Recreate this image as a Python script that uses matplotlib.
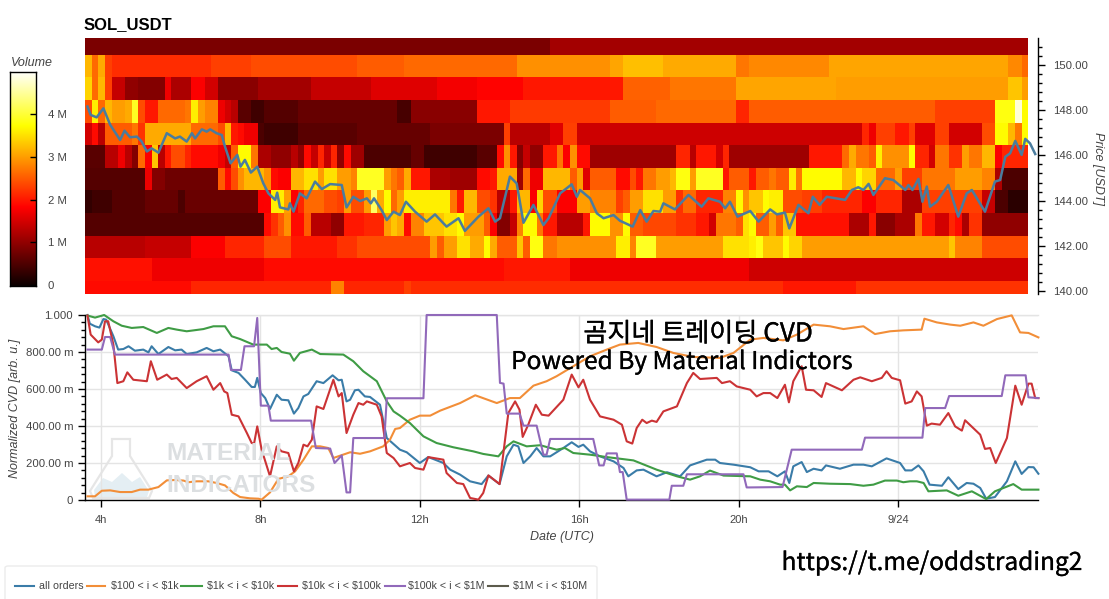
import numpy as np
import matplotlib
matplotlib.use("Agg")
import matplotlib.pyplot as plt
import matplotlib.patheffects as pe
from matplotlib.lines import Line2D
from matplotlib.patches import Polygon, FancyBboxPatch
from matplotlib.ticker import FixedLocator, FixedFormatter

W, H = 1109, 599

# ---- heatmap: each row lists (last column of the run, volume in millions), 10-minute columns
price_edges = [139.87, 140.44, 141.46, 142.43, 143.45, 144.47, 145.44, 146.46, 147.43, 148.45, 149.47, 150.44, 151.19]
vol_row_01 = [(15,1.9),(36,2.1),(38,2.8),(47,2.1),(48,2.3),(104,2.15),(115,2.0),(141,2.2)]
vol_row_02 = [(9,1.95),(26,1.7),(62,1.9),(72,2.0),(99,1.7),(141,1.45)]
vol_row_03 = [(8,1.3),(15,1.4),(20,1.8),(26,2.1),(30,2.4),(37,2.0),(40,2.2),(51,2.4),(52,3.0),(53,2.5),(55,3.0),(57,3.5),(59,3.1),(60,3.7),(61,3.1),(64,2.5),(65,3.3),(66,2.5),(68,3.8),(70,2.7),(79,2.9),(81,3.6),(82,2.8),(85,3.9),(95,3.0),(99,3.5),(100,3.6),(101,3.8),(104,3.3),(105,3.7),(107,3.4),(129,3.0),(130,3.3),(134,2.8),(141,2.4)]
vol_row_04 = [(26,0.55),(27,1.9),(28,2.2),(29,2.5),(30,2.9),(32,1.9),(33,2.5),(36,1.3),(38,1.0),(41,2.0),(44,2.1),(45,3.0),(46,3.3),(47,3.1),(48,1.9),(50,2.8),(53,3.3),(55,3.5),(56,3.7),(59,3.0),(60,2.5),(61,1.8),(63,0.9),(64,1.4),(65,2.8),(67,3.7),(68,2.7),(70,2.0),(74,1.3),(75,2.0),(78,3.7),(80,2.9),(81,3.7),(83,2.5),(88,2.35),(91,2.2),(93,2.0),(94,1.5),(97,2.7),(98,2.5),(99,3.5),(100,3.7),(102,2.5),(103,3.0),(104,2.5),(106,3.3),(114,1.95),(117,1.2),(118,2.0),(121,0.95),(124,1.2),(125,2.7),(127,2.0),(129,1.5),(130,2.1),(131,1.9),(132,1.2),(134,2.2),(141,1.0)]
vol_row_05 = [(0,0.3),(3,0.4),(8,0.55),(13,0.7),(14,0.5),(25,0.72),(27,1.8),(29,3.6),(30,3.0),(31,1.8),(32,2.1),(35,2.6),(37,2.4),(38,2.3),(39,3.0),(41,2.4),(42,3.0),(43,4.2),(44,3.1),(45,3.7),(46,2.6),(47,3.0),(54,3.6),(55,2.7),(56,2.0),(58,3.2),(60,2.4),(61,2.2),(63,1.3),(64,2.0),(66,3.2),(67,1.8),(68,3.4),(70,2.4),(73,1.8),(75,3.0),(79,2.8),(80,2.3),(81,2.5),(83,3.0),(86,3.5),(88,3.0),(89,2.2),(91,2.6),(95,2.1),(97,2.8),(98,3.7),(99,2.9),(101,3.3),(102,3.7),(104,3.6),(107,2.4),(110,2.3),(116,2.1),(118,1.8),(122,2.1),(125,1.2),(134,2.3),(136,1.4),(138,0.5),(141,0.25)]
vol_row_06 = [(8,0.55),(9,1.7),(11,0.9),(19,0.75),(20,2.5),(21,1.9),(22,2.4),(23,2.9),(26,3.2),(27,2.9),(28,1.9),(30,1.8),(32,3.2),(34,3.5),(35,3.0),(37,3.5),(39,3.0),(40,2.8),(44,3.9),(45,3.0),(46,2.7),(47,2.5),(48,3.1),(51,2.0),(54,1.2),(58,1.1),(60,1.9),(61,2.0),(64,3.1),(65,1.1),(66,2.6),(68,1.7),(72,3.2),(73,2.5),(74,3.0),(75,1.6),(79,2.5),(81,1.9),(82,2.4),(83,2.0),(85,2.7),(87,3.0),(88,3.2),(90,3.8),(91,3.0),(95,3.9),(96,2.0),(99,2.5),(100,2.0),(102,2.5),(103,2.7),(105,2.5),(106,3.6),(107,2.7),(113,3.7),(115,3.2),(116,3.7),(118,3.4),(121,2.6),(122,3.0),(125,2.3),(130,2.7),(134,3.0),(136,2.8),(137,1.2),(141,0.5)]
vol_row_07 = [(2,0.6),(4,1.3),(5,1.7),(6,1.3),(7,0.9),(8,2.6),(9,1.8),(10,3.3),(11,1.3),(12,2.0),(14,2.4),(15,2.1),(19,1.9),(20,1.7),(21,1.4),(22,2.5),(24,3.7),(25,2.7),(27,1.2),(30,1.0),(31,1.3),(32,1.0),(33,1.9),(34,1.4),(35,2.1),(36,1.4),(37,2.1),(38,1.0),(39,1.9),(41,1.1),(48,0.5),(50,0.7),(58,0.4),(61,0.6),(62,1.9),(63,2.9),(64,2.0),(65,0.9),(66,1.4),(68,1.0),(70,2.0),(71,2.7),(72,1.8),(73,2.9),(75,1.9),(88,1.1),(90,2.1),(91,1.3),(94,2.0),(95,1.5),(96,2.1),(108,1.1),(113,2.0),(114,2.6),(115,3.1),(117,2.7),(118,2.5),(119,3.6),(123,2.9),(124,3.7),(126,2.1),(127,1.5),(129,2.7),(131,2.2),(132,3.0),(134,2.7),(136,3.2),(137,1.8),(141,2.1)]
vol_row_08 = [(0,1.5),(1,1.9),(2,1.3),(6,2.5),(7,2.7),(8,2.2),(15,3.1),(19,2.6),(20,2.4),(21,3.2),(22,2.0),(23,1.9),(25,1.7),(26,0.5),(31,0.4),(40,0.6),(51,0.7),(62,0.85),(63,2.3),(69,1.3),(71,1.6),(73,2.3),(116,1.45),(117,2.1),(118,1.7),(121,2.3),(123,2.0),(124,2.3),(127,1.6),(129,2.3),(134,1.5),(136,2.4),(138,3.7),(139,3.2),(140,2.7),(141,3.7)]
vol_row_09 = [(0,2.4),(1,3.6),(2,2.6),(3,3.2),(5,3.0),(6,3.1),(7,3.9),(8,2.4),(10,2.0),(14,2.6),(15,2.7),(16,3.6),(17,3.0),(19,2.8),(20,1.7),(21,1.5),(22,1.3),(24,0.6),(26,0.4),(31,0.55),(46,0.7),(48,0.45),(58,0.95),(63,2.0),(78,2.25),(85,2.5),(97,2.6),(99,2.1),(127,2.5),(136,2.3),(139,3.8),(140,4.8),(141,3.7)]
vol_row_10 = [(0,3.4),(1,2.6),(2,3.2),(3,2.3),(5,1.4),(7,1.0),(11,0.9),(12,1.7),(15,1.2),(17,1.8),(19,1.5),(25,0.95),(33,1.15),(42,1.4),(52,1.6),(58,1.75),(65,1.85),(80,2.0),(87,2.55),(97,2.7),(112,3.05),(138,3.0),(140,3.3),(141,3.0)]
vol_row_11 = [(0,3.2),(1,2.6),(2,3.1),(3,2.3),(18,2.15),(24,2.3),(40,2.4),(47,2.5),(64,2.6),(78,2.9),(80,3.05),(86,3.25),(97,3.1),(99,2.7),(111,2.85),(138,3.05),(140,2.85),(141,2.6)]
vol_row_12 = [(69,0.85),(141,1.15)]
vol_rows = [vol_row_01, vol_row_02, vol_row_03, vol_row_04, vol_row_05, vol_row_06,
            vol_row_07, vol_row_08, vol_row_09, vol_row_10, vol_row_11, vol_row_12]
n_cols = 142
first_hour = 3.6

# ---- price line
price_t = [3.66,3.74,3.89,4.06,4.23,4.48,4.59,4.73,4.90,5.02,5.15,5.27,5.44,5.65,5.86,5.98,6.15,6.28,6.36,6.53,6.65,6.74,6.90,7.03,7.11,7.25,7.42,7.50,7.61,7.76,7.92,8.07,8.20,8.37,8.42,8.49,8.70,8.74,8.83,8.99,9.16,9.37,9.54,9.75,10.04,10.16,10.33,10.50,10.67,10.77,10.85,11.04,11.17,11.34,11.50,
           11.65,11.88,12.17,12.38,12.67,12.97,13.13,13.47,13.72,13.89,14.01,14.26,14.43,14.60,14.85,15.10,15.23,15.52,15.81,15.94,16.02,16.27,16.44,16.61,16.86,17.02,17.34,17.53,17.69,17.86,18.03,18.11,18.40,18.74,19.07,19.24,19.53,19.66,19.78,19.97,20.29,
           20.50,20.79,20.96,21.16,21.27,21.50,21.75,21.86,22.03,22.21,22.67,22.84,23.00,23.13,23.26,23.38,23.67,23.88,24.18,24.26,24.36,24.51,24.61,24.72,24.80,24.97,25.26,25.51,25.72,25.85,26.18,26.43,26.56,26.69,26.81,26.94,27.10,27.19,27.31,27.44]
price_v = [148.16,147.79,147.68,148.08,147.35,146.68,147.09,146.80,146.83,146.61,146.17,146.31,146.12,146.98,146.75,146.83,146.61,146.98,146.75,147.15,147.05,147.15,146.98,146.90,146.39,145.65,146.02,145.50,145.80,145.24,145.50,144.77,144.32,144.03,144.35,143.70,143.61,143.88,143.51,144.32,144.10,144.84,144.51,144.73,144.69,143.70,144.17,143.98,144.10,143.88,144.10,143.58,143.14,143.51,143.36,
           143.95,143.51,143.07,143.39,142.85,143.22,142.66,143.29,143.66,143.07,143.22,145.06,144.76,143.02,143.81,142.92,143.22,144.32,144.72,144.17,144.47,144.10,143.44,143.22,143.36,143.11,142.85,143.58,143.07,143.54,143.51,143.88,143.61,144.25,143.73,144.10,143.95,143.66,143.95,143.29,143.54,
           143.07,143.61,143.39,143.47,142.77,143.81,143.44,144.17,143.81,144.17,144.03,144.47,144.59,144.47,144.74,144.25,144.99,144.91,144.47,144.69,144.47,144.96,143.95,144.62,143.73,143.95,144.69,143.29,144.32,144.47,143.51,144.84,144.91,145.94,146.09,146.64,146.02,146.73,146.53,146.06]

# ---- CVD series (hours, thousandths)
blue_t = [3.66,3.72,3.85,3.96,4.06,4.13,4.31,4.43,4.56,4.69,4.85,5.06,5.19,5.27,5.44,5.69,5.86,6.02,6.15,6.40,6.65,6.82,6.99,7.20,7.28,7.45,7.61,7.78,7.86,7.92,8.01,8.12,8.24,8.41,8.53,8.70,8.84,8.95,9.08,9.20,9.41,9.58,9.81,9.96,10.04,10.16,10.25,10.37,10.46,10.62,10.75,11.00,11.17,11.50,
          11.67,12.00,12.21,12.38,12.59,12.76,13.01,13.26,13.55,13.72,14.00,14.18,14.35,14.47,14.60,14.77,14.93,15.10,15.27,15.60,15.81,15.98,16.10,16.27,16.52,16.86,17.11,17.23,17.44,17.61,17.94,18.20,18.53,18.78,19.20,19.41,19.53,19.87,20.29,
          20.50,20.75,20.97,21.16,21.27,21.37,21.58,21.71,21.88,22.08,22.19,22.54,22.88,23.13,23.34,23.71,24.05,24.18,24.34,24.51,24.64,24.79,25.10,25.26,25.51,25.72,25.89,26.06,26.21,26.43,26.73,26.94,27.10,27.27,27.40,27.52]
blue_v = [1000,953,939,932,978,975,885,813,816,831,807,813,798,831,789,827,809,813,789,798,822,804,813,777,701,687,651,611,611,660,578,551,492,569,542,539,467,497,560,573,642,632,674,647,650,533,542,593,596,560,557,515,335,272,
          258,200,232,218,200,164,137,101,86,132,86,236,299,290,200,236,281,236,236,281,312,287,299,263,236,209,173,128,160,164,128,150,128,187,218,218,200,191,177,
          155,155,128,155,92,182,205,151,169,160,187,169,191,191,182,225,200,160,160,187,155,83,77,123,59,92,88,65,7,16,101,209,141,178,177,142]
orange_t = [3.66,3.85,4.02,4.23,4.48,4.77,4.98,5.19,5.44,5.65,5.86,6.07,6.19,6.40,6.69,6.90,7.11,7.32,7.49,7.74,7.95,8.03,8.24,8.45,8.70,8.87,9.08,9.29,9.50,9.70,9.83,10.25,10.50,10.75,11.08,11.25,11.38,11.50,
            11.75,12.00,12.26,12.51,13.01,13.39,13.93,14.26,14.51,14.85,15.18,15.43,15.85,16.27,16.69,17.02,17.48,17.94,18.36,18.86,19.53,19.87,20.29,
            20.62,21.12,21.46,21.88,22.29,22.63,23.13,23.42,23.80,24.13,24.59,24.66,24.97,25.31,25.56,25.89,26.14,26.48,26.85,27.06,27.27,27.52]
orange_v = [20,20,50,52,43,43,56,56,70,106,108,105,96,101,101,92,79,38,16,9,7,2,41,114,128,155,218,290,290,281,227,258,250,263,290,326,384,389,
            434,456,456,483,524,566,524,551,551,618,642,669,723,777,813,840,849,827,795,773,768,795,867,
            876,863,894,948,939,924,939,897,912,917,921,980,960,948,942,960,942,978,998,906,903,879]
green_t = [3.66,3.85,4.08,4.31,4.52,4.77,5.06,5.40,5.69,5.90,6.15,6.57,6.82,7.11,7.28,7.49,7.82,8.16,8.28,8.41,8.53,8.74,8.84,8.99,9.29,9.50,10.08,10.33,10.58,10.92,11.17,11.34,11.50,
           11.75,12.09,12.42,12.84,13.34,13.59,13.97,14.18,14.35,14.68,15.02,15.43,15.64,15.85,16.27,16.69,17.36,17.94,18.45,18.78,19.03,19.28,19.62,20.29,
           20.54,20.79,21.04,21.16,21.29,21.46,21.71,21.88,22.29,22.80,23.13,23.38,23.67,23.97,24.13,24.30,24.47,24.64,24.76,25.22,25.51,25.85,26.21,26.43,26.89,27.10,27.52]
green_v = [997,986,1000,966,942,930,935,903,930,921,912,924,939,939,885,870,840,840,816,822,800,791,753,795,813,789,786,750,696,642,533,479,456,
           416,344,308,285,263,249,236,290,317,290,296,272,281,254,245,232,214,164,128,110,128,159,132,128,
           110,101,83,83,52,74,70,92,88,86,77,83,105,105,96,101,101,92,47,52,23,47,5,47,86,56,56]
red_t = [3.66,3.74,3.93,4.02,4.10,4.18,4.31,4.41,4.56,4.66,4.81,5.15,5.25,5.41,5.65,5.77,5.90,6.15,6.40,6.65,6.82,6.99,7.09,7.17,7.28,7.45,7.66,7.78,7.84,7.92,8.03,8.24,8.41,8.53,8.70,8.84,8.95,9.08,9.18,9.29,9.41,9.58,9.83,9.96,10.04,10.16,10.33,10.46,10.58,10.67,10.92,11.04,11.17,11.34,11.50,
         11.75,11.88,12.09,12.21,12.59,12.67,12.93,13.09,13.26,13.47,13.59,13.72,14.00,14.22,14.39,14.50,14.58,14.72,14.91,15.06,15.23,15.60,15.81,15.98,16.10,16.27,16.52,16.86,17.07,17.19,17.33,17.44,17.58,17.69,17.82,17.94,18.11,18.45,18.70,18.86,19.03,19.45,19.58,19.78,19.95,20.29,
         20.45,20.62,20.79,20.97,21.16,21.26,21.37,21.58,21.69,21.88,22.08,22.19,22.59,22.88,23.05,23.34,23.59,23.71,23.84,24.05,24.18,24.34,24.47,24.59,24.72,24.84,25.05,25.26,25.43,25.60,25.68,26.06,26.18,26.31,26.45,26.73,26.94,27.10,27.27,27.35,27.44,27.52]
red_v = [997,894,852,867,966,966,840,632,642,690,650,642,750,650,678,654,660,605,642,669,596,632,587,578,461,452,362,308,305,398,272,128,290,263,254,155,200,299,290,326,506,492,650,560,578,362,461,524,515,533,515,452,254,227,182,
         200,173,164,232,218,146,92,86,11,2,38,133,86,470,533,488,341,407,515,461,456,542,678,609,650,542,452,434,407,317,305,389,434,416,429,422,479,506,632,687,654,660,632,642,614,596,
         560,578,578,551,623,528,642,723,596,593,557,632,593,650,663,642,660,696,660,647,521,533,587,560,402,413,407,470,398,375,431,353,276,281,200,335,618,515,629,629,551,551]
purple_t = [3.66,4.02,4.10,4.23,4.35,7.20,7.26,7.51,7.60,7.84,7.92,8.01,8.20,8.26,9.27,9.39,9.75,9.86,10.04,10.16,10.25,10.33,11.11,11.17,11.50,
            12.09,12.17,13.93,14.01,14.10,14.18,14.50,14.60,14.93,15.10,15.18,15.27,16.35,16.50,16.61,16.69,16.94,17.02,17.09,17.19,18.26,18.32,18.61,18.70,20.12,20.20,20.29,
            21.10,21.33,23.09,23.17,24.61,24.68,25.18,25.28,26.60,26.69,27.20,27.27,27.52]
purple_v = [813,813,881,881,786,786,703,703,831,831,984,510,510,429,429,281,278,200,241,41,41,335,335,550,550,
            550,1000,1000,633,629,467,467,402,402,245,245,330,330,187,187,252,252,151,151,2,2,77,77,139,139,68,68,
            70,272,272,337,337,497,497,562,562,674,674,555,551]

# ---- labels
series_labels = ["all orders", "$100 < i < $1k", "$1k < i < $10k", "$10k < i < $100k", "$100k < i < $1M", "$1M < i < $10M"]
series_colors = ["#3a7ca8", "#f28e38", "#3f9c45", "#cb3335", "#9169ba", "#5c5b4c"]
hour_ticks = [4, 8, 12, 16, 20, 24]
hour_labels = ["4h", "8h", "12h", "16h", "20h", "9/24"]
cvd_ticks = [0, 200, 400, 600, 800, 1000]
cvd_labels = ["0", "200.00 m", "400.00 m", "600.00 m", "800.00 m", "1.000"]
price_ticks = [140, 142, 144, 146, 148, 150]
vol_ticks = [0, 1, 2, 3, 4]
vol_labels = ["0", "1 M", "2 M", "3 M", "4 M"]

SANS = ["Liberation Sans", "DejaVu Sans"]
CJK = ["Noto Sans CJK KR", "DejaVu Sans"]
GRAY = "#444444"
plt.rcParams["font.family"] = SANS


def ax_px(x0, y0, x1, y1):
    return fig.add_axes([x0 / W, 1 - y1 / H, (x1 - x0) / W, (y1 - y0) / H])


def txt(x, y, s, **kw):
    return fig.text(x / W, 1 - y / H, s, **kw)


fig = plt.figure(figsize=(W / 100, H / 100), dpi=100, facecolor="white")

# bottom panel
ax2 = ax_px(85, 315, 1038, 500)
xlim = (3.598, 27.51)
ax2.set_xlim(xlim)
ax2.set_ylim(0, 1000)
for s in ("top", "right"):
    ax2.spines[s].set_visible(False)
for s in ("left", "bottom"):
    ax2.spines[s].set_linewidth(1.0)
ax2.grid(True, color="#e4e4e4", lw=1.0)
ax2.axhline(1000, color="#e4e4e4", lw=1.0, clip_on=False, zorder=0.5)
ax2.set_axisbelow(True)
ax2.xaxis.set_major_locator(FixedLocator(hour_ticks))
ax2.xaxis.set_major_formatter(FixedFormatter(hour_labels))
ax2.yaxis.set_major_locator(FixedLocator(cvd_ticks))
ax2.yaxis.set_major_formatter(FixedFormatter(cvd_labels))
ax2.yaxis.set_minor_locator(FixedLocator(list(range(0, 1001, 40))))
ax2.tick_params(axis="both", which="major", length=5, width=1, colors="black", labelcolor=GRAY, labelsize=8.2)
ax2.tick_params(axis="x", pad=6, labelsize=8.0)
ax2.tick_params(axis="y", which="minor", length=3, width=1)
ax2.patch.set_alpha(0)
for t, v, c in ((blue_t, blue_v, series_colors[0]), (orange_t, orange_v, series_colors[1]),
                (green_t, green_v, series_colors[2]), (red_t, red_v, series_colors[3]),
                (purple_t, purple_v, series_colors[4])):
    ax2.plot(t, v, color=c, lw=1.5, solid_joinstyle="round", clip_on=False, zorder=3)

# top panel
ax1 = ax_px(85, 38, 1038, 294)
ax1.set_xlim(xlim)
ax1.set_ylim(price_edges[0], price_edges[-1])
vol = np.zeros((len(vol_rows), n_cols))
for r, runs in enumerate(vol_rows):
    c0 = 0
    for last, value in runs:
        vol[r, c0:last + 1] = value
        c0 = last + 1
col_edges = first_hour + np.arange(n_cols + 1) / 6
ax1.pcolormesh(col_edges, price_edges, vol, cmap="hot", vmin=0, vmax=5, shading="flat", linewidth=0, antialiased=False)
ax1.plot(price_t, price_v, color="#4a7c9e", lw=1.8, solid_joinstyle="round", zorder=3)
for s in ("top", "left", "bottom"):
    ax1.spines[s].set_visible(False)
ax1.spines["right"].set_linewidth(1.0)
ax1.xaxis.set_visible(False)
ax1.yaxis.tick_right()
ax1.yaxis.set_major_locator(FixedLocator(price_ticks))
ax1.yaxis.set_major_formatter(FixedFormatter([f"{p:.2f}" for p in price_ticks]))
ax1.yaxis.set_minor_locator(FixedLocator(list(np.arange(140, 151.2, 0.4))))
ax1.tick_params(axis="y", which="major", length=5, width=1, labelcolor=GRAY, labelsize=8.2, pad=6)
ax1.tick_params(axis="y", which="minor", length=3, width=1)

# colour bar
cax = ax_px(10, 71.5, 36, 286)
grad = np.linspace(0, 4.99, 256).reshape(-1, 1)
cax.imshow(grad, aspect="auto", cmap="hot", vmin=0, vmax=5, origin="lower", extent=(0, 1, -0.02, 4.99))
cax.xaxis.set_visible(False)
cax.yaxis.tick_right()
cax.yaxis.set_major_locator(FixedLocator(vol_ticks))
cax.yaxis.set_major_formatter(FixedFormatter(vol_labels))
cax.tick_params(axis="y", direction="in", length=4, width=1, labelcolor=GRAY, labelsize=8.2, pad=8.5)
for s in cax.spines.values():
    s.set_linewidth(1.0)

# watermark (behind the CVD lines)
to_fig = lambda pts: [(x / W, 1 - y / H) for x, y in pts]
flask = [(112, 439), (130, 439), (130, 456), (152, 491), (149, 498), (93, 498), (90, 491), (112, 456)]
hill = [(94, 490), (103, 478), (112, 482), (122, 473), (132, 482), (140, 477), (149, 491), (147, 497), (95, 497)]
fig.add_artist(Polygon(to_fig(hill), closed=True, transform=fig.transFigure, fc="#e4eef3", ec="none", zorder=0))
fig.add_artist(Polygon(to_fig(flask), closed=True, transform=fig.transFigure, fc="none", ec="#e6e6e6", lw=1.6, zorder=0))
txt(166, 454, "MATERIAL", weight="bold", fontsize=17.6, color="#dcdfe1", va="center", ha="left", zorder=0)
txt(166, 486, "INDICATORS", weight="bold", fontsize=17.6, color="#dcdfe1", va="center", ha="left", zorder=0)

# titles and labels
txt(84, 25, "SOL_USDT", fontsize=12, weight="bold", va="center", ha="left", color="black")
txt(11, 62.5, "Volume", fontsize=9, style="italic", va="center", ha="left", color=GRAY)
txt(1098, 168, "Price [USDT]", fontsize=9, style="italic", rotation=270, va="center", ha="center", color=GRAY)
txt(15, 408, "Normalized CVD [arb. u.]", fontsize=9, style="italic", rotation=90, va="center", ha="center", color=GRAY)
txt(562, 537, "Date (UTC)", fontsize=9, style="italic", va="center", ha="center", color=GRAY)

# pasted overlay text
bold_edge = [pe.withStroke(linewidth=0.2, foreground="black")]
txt(698, 334, "곰지네 트레이딩 CVD", family=CJK, fontsize=18.8, va="center", ha="center", color="black", zorder=10, path_effects=bold_edge)
txt(682, 362, "Powered By Material Indictors", family=CJK, fontsize=17.6, va="center", ha="center", color="black", zorder=10, path_effects=bold_edge)
txt(932, 563, "https://t.me/oddstrading2", family=CJK, fontsize=17.6, va="center", ha="center", color="black", zorder=10, path_effects=bold_edge)

# legend
fig.add_artist(FancyBboxPatch((5 / W, 1 - 603 / H), 592 / W, 37 / H, boxstyle="round,pad=0,rounding_size=0.003",
                              transform=fig.transFigure, fc="white", ec="#ececec", lw=1))
leg_line_x = [(15, 34), (87, 105), (181, 202), (278, 297), (385, 405), (488, 508)]
leg_text_x = [39, 111, 207, 302, 408, 513]
for (x0, x1), tx, label, c in zip(leg_line_x, leg_text_x, series_labels, series_colors):
    fig.add_artist(Line2D([x0 / W, x1 / W], [1 - 585.5 / H] * 2, color=c, lw=1.5, transform=fig.transFigure))
    txt(tx, 586, label, fontsize=7.7, va="center", ha="left", color=GRAY, parse_math=False)

fig.savefig("out.png", dpi=100)
